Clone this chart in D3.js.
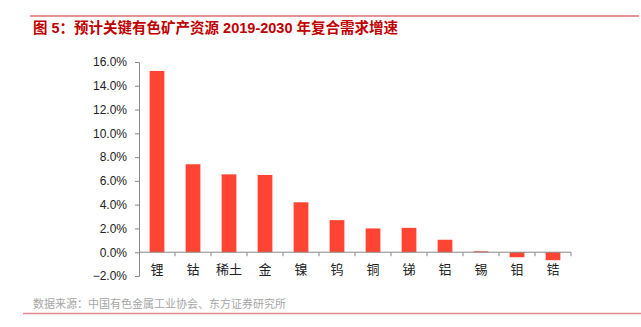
<!DOCTYPE html>
<html>
<head>
<meta charset="utf-8">
<script src="https://cdn.jsdelivr.net/npm/d3@7"></script>
<style>
  body { margin: 0; background: #fff; }
  svg { display: block; font-family: "Liberation Sans", "Noto Sans CJK SC", sans-serif; }
</style>
</head>
<body>
<svg id="chart" width="641" height="327"></svg>
<script>
// data
const categories = ['锂', '钴', '稀土', '金', '镍', '钨', '铜', '锑', '铝', '锡', '钼', '锆'];
const growth = [0.1525, 0.074, 0.0655, 0.065, 0.042, 0.027, 0.020, 0.0205, 0.0105, 0.0008, -0.0042, -0.0067];
const yTicks = [-0.02, 0, 0.02, 0.04, 0.06, 0.08, 0.10, 0.12, 0.14, 0.16];

const svg = d3.select('#chart');
const margin = { top: 62, left: 139, right: 70, bottom: 51 };
const width = 641 - margin.left - margin.right;
const height = 327 - margin.top - margin.bottom;

// header / footer rules
svg.append('line')
  .attr('x1', 30).attr('x2', 639).attr('y1', 16).attr('y2', 16)
  .attr('stroke', '#d0282c').attr('stroke-width', 1.2);

svg.append('text')
  .attr('x', 33).attr('y', 33)
  .style('font-size', '14.5px')
  .style('font-weight', 'bold')
  .attr('fill', '#c00000')
  .text('图 5：预计关键有色矿产资源 2019-2030 年复合需求增速');

svg.append('text')
  .attr('x', 33).attr('y', 308)
  .style('font-size', '11px')
  .attr('fill', '#a6a6a6')
  .text('数据来源：中国有色金属工业协会、东方证券研究所');

svg.append('line')
  .attr('x1', 23).attr('x2', 641).attr('y1', 313.5).attr('y2', 313.5)
  .attr('stroke', '#e88a8a').attr('stroke-width', 1.5);

const g = svg.append('g')
  .attr('transform', `translate(${margin.left},${margin.top})`);

const x = d3.scaleBand()
  .domain(categories)
  .range([0, width])
  .paddingInner(0.59)
  .paddingOuter(0.295);

const y = d3.scaleLinear()
  .domain([-0.02, 0.16])
  .range([height, 0]);

// y axis
const yAxis = g.append('g')
  .call(d3.axisLeft(y).tickValues(yTicks).tickSize(4).tickPadding(8).tickFormat(d3.format('.1%')));
yAxis.select('.domain').attr('stroke', '#888');
yAxis.selectAll('.tick line').attr('stroke', '#888');
yAxis.selectAll('.tick text')
  .attr('fill', '#222')
  .style('font-family', '"Liberation Sans", Arial, sans-serif')
  .style('font-size', '12px');

// bars
g.selectAll('.bar')
  .data(categories)
  .enter()
  .append('rect')
  .attr('class', 'bar')
  .attr('x', (d) => x(d))
  .attr('width', x.bandwidth())
  .attr('y', (d, i) => y(Math.max(0, growth[i])))
  .attr('height', (d, i) => Math.abs(y(growth[i]) - y(0)))
  .attr('fill', '#ff4433');

// zero line with ticks between categories
const step = x.step();
const zeroAxis = g.append('g')
  .attr('transform', `translate(0,${y(0)})`);
zeroAxis.append('line')
  .attr('x1', 0).attr('x2', width)
  .attr('stroke', '#888');
zeroAxis.selectAll('.sep')
  .data(d3.range(1, categories.length + 1))
  .enter()
  .append('line')
  .attr('x1', (d) => d * step).attr('x2', (d) => d * step)
  .attr('y1', 0).attr('y2', 4)
  .attr('stroke', '#888');

// category labels
g.selectAll('.cat')
  .data(categories)
  .enter()
  .append('text')
  .attr('x', (d) => x(d) + x.bandwidth() / 2)
  .attr('y', height - 2)
  .attr('text-anchor', 'middle')
  .attr('fill', '#222')
  .style('font-size', '13px')
  .text((d) => d);
</script>
</body>
</html>
